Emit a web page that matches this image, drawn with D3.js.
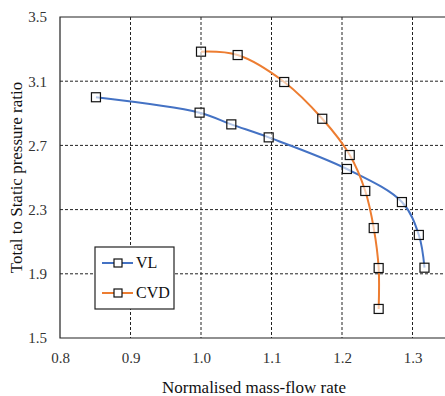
<!DOCTYPE html>
<html>
<head>
<meta charset="utf-8">
<script src="https://cdn.jsdelivr.net/npm/d3@7"></script>
<style>
  html, body { margin: 0; padding: 0; background: #fff; }
  svg { display: block; }
</style>
</head>
<body>
<div id="chart"></div>
<script>
const X_TICKS = [0.8, 0.9, 1.0, 1.1, 1.2, 1.3]
const Y_TICKS = [1.5, 1.9, 2.3, 2.7, 3.1, 3.5]

const VL_X = [0.851, 0.998, 1.043, 1.096, 1.207, 1.285, 1.309, 1.317]
const VL_Y = [3.00, 2.904, 2.831, 2.750, 2.553, 2.347, 2.142, 1.938]

const CVD_X = [1.000, 1.052, 1.118, 1.172, 1.211, 1.233, 1.245, 1.252, 1.252]
const CVD_Y = [3.284, 3.263, 3.095, 2.866, 2.640, 2.416, 2.185, 1.936, 1.681]

const SERIES = [
  { name: "VL", xs: VL_X, ys: VL_Y, color: "#4472c4" },
  { name: "CVD", xs: CVD_X, ys: CVD_Y, color: "#ed7d31" }
]

const FONT = "Liberation Serif"

const width = 445
const height = 396
const margin = { top: 17, bottom: 58, left: 60 }
const plotRight = 448

const x = d3.scaleLinear().domain([0.8, 1.35]).range([margin.left, margin.left + 0.55 * 705])
const y = d3.scaleLinear().domain([1.5, 3.5]).range([height - margin.bottom, margin.top])

const svg = d3.select("#chart")
  .append("svg")
  .attr("width", width)
  .attr("height", height)

// grid
svg.append("g")
  .selectAll("line")
  .data(X_TICKS.slice(1))
  .enter()
  .append("line")
  .attr("x1", d => x(d)).attr("x2", d => x(d))
  .attr("y1", y(3.5)).attr("y2", y(1.5))
  .attr("stroke", "#222")
  .attr("stroke-width", 1)
  .attr("stroke-dasharray", "3,2")

svg.append("g")
  .selectAll("line")
  .data(Y_TICKS.slice(1, -1))
  .enter()
  .append("line")
  .attr("x1", x(0.8)).attr("x2", plotRight)
  .attr("y1", d => y(d)).attr("y2", d => y(d))
  .attr("stroke", "#222")
  .attr("stroke-width", 1)
  .attr("stroke-dasharray", "3,2")

// frame: left, bottom, top (right side is cut off)
svg.append("path")
  .attr("d", `M${plotRight},${y(3.5)}H${x(0.8)}V${y(1.5)}H${plotRight}`)
  .attr("fill", "none")
  .attr("stroke", "#222")
  .attr("stroke-width", 1.2)

const fmt = d3.format(".1f")
const xAxis = d3.axisBottom(x).tickValues(X_TICKS).tickFormat(fmt).tickSize(0).tickPadding(14)
const yAxis = d3.axisLeft(y).tickValues(Y_TICKS).tickFormat(fmt).tickSize(0).tickPadding(13)

svg.append("g")
  .attr("transform", `translate(0,${y(1.5)})`)
  .call(xAxis)
  .attr("font-family", FONT)
  .attr("font-size", 15)
  .call(g => g.select(".domain").remove())
  .selectAll("text")
  .attr("fill", "#333")

svg.append("g")
  .attr("transform", `translate(${x(0.8)},0)`)
  .call(yAxis)
  .attr("font-family", FONT)
  .attr("font-size", 15)
  .call(g => g.select(".domain").remove())
  .selectAll("text")
  .attr("fill", "#333")

svg.append("text")
  .attr("x", 254)
  .attr("y", 393)
  .attr("text-anchor", "middle")
  .attr("font-family", FONT)
  .attr("font-size", 17)
  .attr("fill", "#111")
  .text("Normalised mass-flow rate")

svg.append("text")
  .attr("transform", `translate(22,${(y(1.5) + y(3.5)) / 2}) rotate(-90)`)
  .attr("text-anchor", "middle")
  .attr("font-family", FONT)
  .attr("font-size", 17)
  .attr("fill", "#111")
  .text("Total to Static pressure ratio")

// series
const line = d3.line()
  .x(d => x(d[0]))
  .y(d => y(d[1]))
  .curve(d3.curveCatmullRom.alpha(0.5))

const markerSize = 9

for (const s of SERIES) {
  const pts = s.xs.map((v, i) => [v, s.ys[i]])
  svg.append("path")
    .datum(pts)
    .attr("d", line)
    .attr("fill", "none")
    .attr("stroke", s.color)
    .attr("stroke-width", 2)

  svg.append("g")
    .selectAll("rect")
    .data(pts)
    .enter()
    .append("rect")
    .attr("x", d => x(d[0]) - markerSize / 2)
    .attr("y", d => y(d[1]) - markerSize / 2)
    .attr("width", markerSize)
    .attr("height", markerSize)
    .attr("fill", "#fff")
    .attr("fill-opacity", 0.6)
    .attr("stroke", "#111")
    .attr("stroke-width", 1.2)
}

// legend
const legend = svg.append("g").attr("transform", "translate(95,247)")
legend.append("rect")
  .attr("width", 79)
  .attr("height", 62)
  .attr("fill", "#fff")
  .attr("stroke", "#222")
  .attr("stroke-width", 1.2)

SERIES.forEach((s, i) => {
  const ly = 16 + i * 30
  legend.append("line")
    .attr("x1", 7).attr("x2", 38)
    .attr("y1", ly).attr("y2", ly)
    .attr("stroke", s.color)
    .attr("stroke-width", 2)
  legend.append("rect")
    .attr("x", 23 - 4).attr("y", ly - 4)
    .attr("width", 8).attr("height", 8)
    .attr("fill", "#fff")
    .attr("stroke", "#111")
    .attr("stroke-width", 1.2)
  legend.append("text")
    .attr("x", 41)
    .attr("y", ly + 5)
    .attr("font-family", FONT)
    .attr("font-size", 16)
    .attr("fill", "#111")
    .text(s.name)
})
</script>
</body>
</html>
